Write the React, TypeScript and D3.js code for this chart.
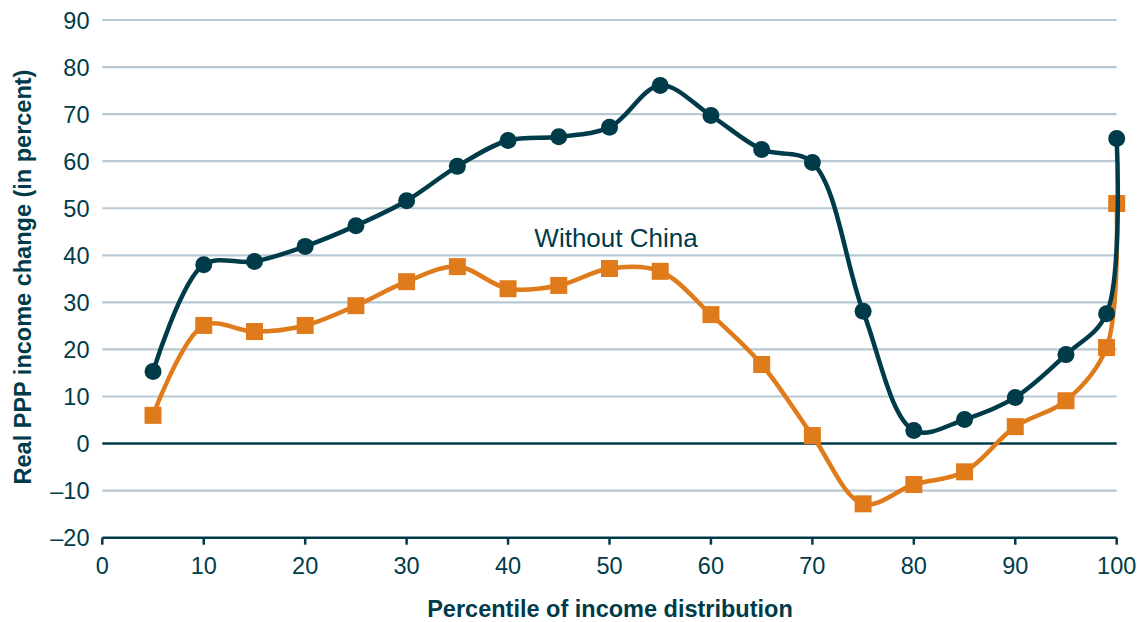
import * as d3 from 'd3'

const percentiles = [5, 10, 15, 20, 25, 30, 35, 40, 45, 50, 55, 60, 65, 70, 75, 80, 85, 90, 95, 99, 100]
const globalGrowth = [15.3, 38.0, 38.7, 41.9, 46.3, 51.6, 58.9, 64.4, 65.2, 67.2, 76.1, 69.7, 62.5, 59.7, 28.1, 2.8, 5.1, 9.8, 18.9, 27.6, 64.8]
const withoutChina = [6.0, 25.1, 23.8, 25.1, 29.3, 34.4, 37.6, 32.9, 33.6, 37.2, 36.6, 27.4, 16.8, 1.7, -12.8, -8.7, -6.0, 3.6, 9.1, 20.4, 51.0]
const yTicks = [-20, -10, 0, 10, 20, 30, 40, 50, 60, 70, 80, 90]
const xTicks = [0, 10, 20, 30, 40, 50, 60, 70, 80, 90, 100]

const W = 1141
const H = 622
const DARK = '#003b49'
const ORANGE = '#e07b1c'
const GRID = '#b8c9d3'
const FONT = '"Liberation Sans", Arial, sans-serif'

export default function App() {
  const x = d3.scaleLinear().domain([0, 100]).range([102.3, 1116.7])
  const y = d3.scaleLinear().domain([-20, 90]).range([537.7, 20])

  // smoothed lines, close to the spreadsheet "smooth line" look
  const line = d3.line<[number, number]>()
    .x(d => x(d[0]))
    .y(d => y(d[1]))
    .curve(d3.curveCatmullRom.alpha(0.5))

  const darkPts: [number, number][] = percentiles.map((p, i) => [p, globalGrowth[i]])
  const orangePts: [number, number][] = percentiles.map((p, i) => [p, withoutChina[i]])

  const fmt = (v: number) => (v < 0 ? '\u2013' + Math.abs(v) : String(v))

  return (
    <svg width={W} height={H} style={{ position: 'absolute', left: 0, top: 0 }} fontFamily={FONT}>
      <rect width={W} height={H} fill="#fff" />
      {yTicks.filter(t => t !== 0 && t !== -20).map(t => (
        <line key={t} x1={x(0)} x2={x(100)} y1={y(t)} y2={y(t)} stroke={GRID} strokeWidth={2.2} />
      ))}
      <line x1={x(0)} x2={x(100)} y1={y(0)} y2={y(0)} stroke={DARK} strokeWidth={2.5} />
      <line x1={x(0)} x2={x(100)} y1={y(-20)} y2={y(-20)} stroke={DARK} strokeWidth={2.5} />
      {xTicks.map(t => (
        <g key={t}>
          <line x1={x(t)} x2={x(t)} y1={y(-20)} y2={y(-20) + 7} stroke={DARK} strokeWidth={2.5} />
          <text x={x(t)} y={574} textAnchor="middle" fontSize={23.5} fill={DARK}>{t}</text>
        </g>
      ))}
      {yTicks.map(t => (
        <text key={t} x={89.5} y={y(t) + 8.5} textAnchor="end" fontSize={23.5} fill={DARK}>{fmt(t)}</text>
      ))}

      <path d={line(orangePts) || ''} fill="none" stroke={ORANGE} strokeWidth={4.5} />
      {orangePts.map((d, i) => (
        <rect key={i} x={x(d[0]) - 8.5} y={y(d[1]) - 8.5} width={17} height={17} fill={ORANGE} />
      ))}
      <path d={line(darkPts) || ''} fill="none" stroke={DARK} strokeWidth={4.5} />
      {darkPts.map((d, i) => (
        <circle key={i} cx={x(d[0])} cy={y(d[1])} r={8.5} fill={DARK} />
      ))}

      <text x={616} y={246.5} textAnchor="middle" fontSize={26} fill={DARK}>Without China</text>

      <text transform={`translate(31, 277) rotate(-90)`} textAnchor="middle" fontSize={23.5} fontWeight="bold" fill={DARK}>
        Real PPP income change (in percent)
      </text>
      <text x={610} y={617} textAnchor="middle" fontSize={23.5} fontWeight="bold" fill={DARK}>
        Percentile of income distribution
      </text>
    </svg>
  )
}
